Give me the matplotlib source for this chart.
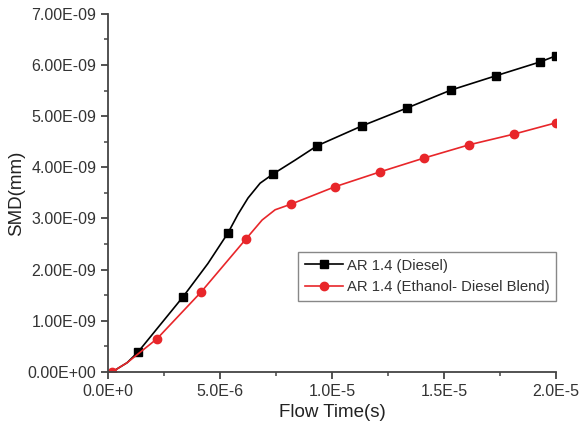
import matplotlib
matplotlib.use("Agg")
import matplotlib.pyplot as plt
from matplotlib.ticker import FuncFormatter, MultipleLocator

plt.rcParams['font.family'] = ['Liberation Sans', 'DejaVu Sans']

# flow time (x1e-6 s) and SMD (x1e-9 mm)
diesel_t = [0.18, 0.85, 1.34, 3.35, 4.46, 5.36, 5.80, 6.25, 6.79, 7.37, 8.35, 9.33, 11.34, 13.35, 15.31, 17.32, 19.29, 20.0]
diesel_smd = [0.0, 0.18, 0.39, 1.47, 2.12, 2.72, 3.08, 3.40, 3.69, 3.87, 4.14, 4.42, 4.81, 5.16, 5.51, 5.79, 6.06, 6.18]
diesel_mark = [2, 3, 5, 9, 11, 12, 13, 14, 15, 16, 17]

blend_t = [0.18, 0.85, 2.19, 4.15, 6.16, 6.88, 7.46, 8.17, 10.13, 12.14, 14.10, 16.12, 18.13, 20.0]
blend_smd = [0.0, 0.18, 0.65, 1.56, 2.60, 2.97, 3.17, 3.28, 3.62, 3.91, 4.18, 4.44, 4.65, 4.87]
blend_mark = [0, 2, 3, 4, 7, 8, 9, 10, 11, 12, 13]

fig = plt.figure(figsize=(5.84, 4.33), dpi=100)
ax = fig.add_axes([0.185, 0.141, 0.767, 0.827])

ax.plot([t * 1e-6 for t in diesel_t], [v * 1e-9 for v in diesel_smd], color="black", lw=1.2,
        marker="s", ms=5.5, markevery=diesel_mark, label="AR 1.4 (Diesel)")
ax.plot([t * 1e-6 for t in blend_t], [v * 1e-9 for v in blend_smd], color="#e8262a", lw=1.2,
        marker="o", ms=6, markevery=blend_mark, label="AR 1.4 (Ethanol- Diesel Blend)")

ax.set_xlim(0, 2e-5)
ax.set_ylim(0, 7e-9)
ax.xaxis.set_major_locator(MultipleLocator(5e-6))
ax.xaxis.set_minor_locator(MultipleLocator(2.5e-6))
ax.yaxis.set_major_locator(MultipleLocator(1e-9))
ax.yaxis.set_minor_locator(MultipleLocator(5e-10))

def xfmt(v, pos):
    m, e = f"{v:.1E}".split("E")
    return f"{m}E{int(e):+d}"

ax.xaxis.set_major_formatter(FuncFormatter(xfmt))
ax.yaxis.set_major_formatter(FuncFormatter(lambda v, p: f"{v:.2E}"))

for s in ("top", "right"):
    ax.spines[s].set_visible(False)
for s in ("left", "bottom"):
    ax.spines[s].set_color("#444444")
    ax.spines[s].set_linewidth(1.3)
ax.tick_params(which="major", direction="out", length=5, width=1.3, color="#444444",
               labelsize=11.5, labelcolor="#333333")
ax.tick_params(which="minor", direction="out", length=3, width=1.1, color="#444444")

ax.set_xlabel("Flow Time(s)", fontsize=13.5, color="#222222", labelpad=4)
ax.set_ylabel("SMD(mm)", fontsize=13.5, color="#222222", labelpad=2)

leg = ax.legend(loc="upper left", bbox_to_anchor=(0.424, 0.335), borderaxespad=0,
                fancybox=False, fontsize=10.7, handlelength=2.6, handletextpad=0.25,
                labelspacing=0.5, borderpad=0.45, framealpha=1)
leg.get_frame().set_edgecolor("#888888")
leg.get_frame().set_linewidth(1.0)
for t in leg.get_texts():
    t.set_color("#333333")

fig.savefig("out.png", dpi=100)
